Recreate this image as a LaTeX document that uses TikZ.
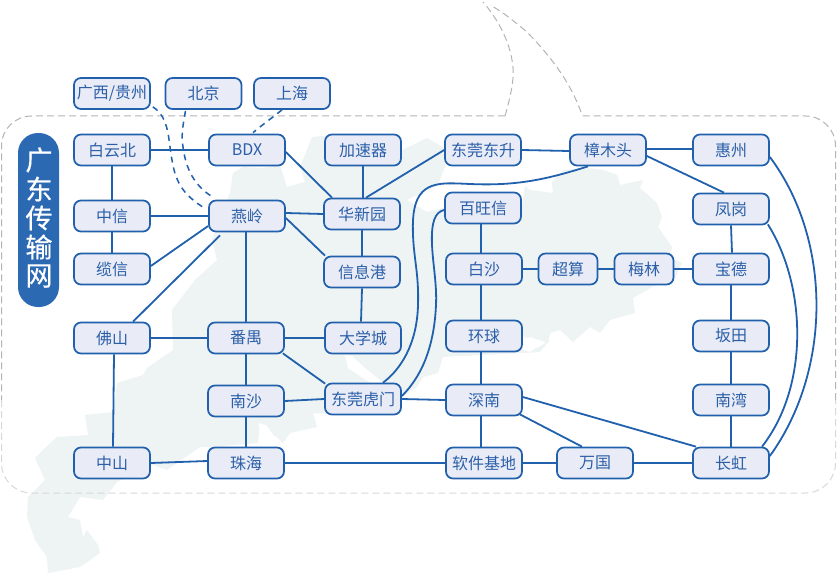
\documentclass[tikz,border=0pt]{standalone}
\usepackage{fontspec}
\setmainfont{Noto Sans CJK SC}
\newfontfamily\titlecjk[FakeBold=0.5]{Noto Sans CJK SC}
\begin{document}
\begin{tikzpicture}[x=1pt,y=-1pt,
  st/.style={draw=lineblue,fill=boxfill,line width=1.7pt,rounded corners=7pt,minimum width=76pt,minimum height=31pt,inner sep=0pt,text=textblue,font=\fontsize{16}{16}\selectfont},
  sm/.style={st,minimum width=59pt},
  pill/.style={draw=none,fill=pillblue,rounded corners=20pt,minimum width=41pt,minimum height=174pt,inner sep=0pt},
  pilltxt/.style={text=white,inner sep=0pt,font=\fontsize{27}{27}\selectfont\titlecjk},
  link/.style={draw=lineblue,line width=1.8pt},
  dlink/.style={draw=lineblue,line width=1.5pt,dash pattern=on 6pt off 5pt},
  border/.style={draw=bordergray,line width=1pt,dash pattern=on 7pt off 4pt},
  borderlow/.style={draw=borderlight,line width=1pt,dash pattern=on 7pt off 4pt},
]
\definecolor{lineblue}{HTML}{2060AC}
\definecolor{boxfill}{HTML}{E9ECF6}
\definecolor{textblue}{HTML}{2B5FA8}
\definecolor{pillblue}{HTML}{2B69B3}
\definecolor{mapgray}{HTML}{EEF3F4}
\definecolor{bordergray}{HTML}{B4B4B4}
\definecolor{borderlight}{HTML}{D8D8D8}
\useasboundingbox (0,0) rectangle (837,575);
\fill[white] (0,0) rectangle (837,575);
% map
\fill[mapgray] (233,173) -- (243,167) -- (262,168) -- (280,165) -- (287,187) -- (305,182) -- (300,167) -- (312,137) -- (323,136) -- (345,138) -- (402,150) -- (427,138) -- (443,147) -- (445,166) -- (438,185) -- (407,200) -- (427,212) -- (443,208) -- (522,205) -- (525,186) -- (530,190) -- (553,193) -- (552,182) -- (563,170) -- (587,168) -- (603,170) -- (617,175) -- (620,185) -- (643,180) -- (640,188) -- (657,203) -- (662,217) -- (658,227) -- (672,247) -- (670,257) -- (682,263) -- (675,278) -- (652,287) -- (633,298) -- (635,313) -- (610,320) -- (600,333) -- (590,327) -- (573,342) -- (560,330) -- (550,333) -- (548,343) -- (530,337) -- (523,340) -- (537,348) -- (550,340) -- (540,352) -- (443,357) -- (438,373) -- (423,377) -- (417,387) -- (402,397) -- (345,415) -- (313,413) -- (317,427) -- (290,433) -- (283,443) -- (277,437) -- (265,432) -- (260,423) -- (258,443) -- (208,447) -- (200,447) -- (167,470) -- (153,465) -- (117,482) -- (103,500) -- (80,497) -- (68,517) -- (80,520) -- (83,537) -- (87,530) -- (98,545) -- (100,553) -- (80,567) -- (48,573) -- (47,557) -- (35,540) -- (27,517) -- (28,497) -- (45,480) -- (35,458) -- (50,443) -- (57,437) -- (88,435) -- (85,415) -- (113,412) -- (117,383) -- (143,375) -- (147,368) -- (173,350) -- (172,310) -- (195,280) -- (217,260) -- (212,240) -- (225,205) -- (230,193) -- cycle;
\fill[white] (345,355) -- (352,356) -- (365,368) -- (382,382) -- (372,384) -- (360,376) -- (348,368) -- cycle;
\fill[white] (510,345) -- (520,335) -- (540,345) -- (530,352) -- cycle;
\fill[white] (258,423) -- (266,425) -- (274,436) -- (262,436) -- cycle;
% border
\path[border,rounded corners=30pt] (505,116) -- (1.5,116) -- (1.5,400);
\path[borderlow,rounded corners=30pt] (1.5,400) -- (1.5,493) -- (835.5,493) -- (835.5,400);
\path[border,rounded corners=30pt] (835.5,400) -- (835.5,116) -- (581,116);
\path[border] (505,116) .. controls (511,95) and (514,80) .. (513,68) .. controls (511,42) and (497,18) .. (483,2);
\path[border] (581,112) .. controls (570,82) and (552,58) .. (527,32) .. controls (515,22) and (503,12) .. (490,5);
% pill
\node[pill] (title) at (38.5,220) {};
\node[pilltxt] (t1) at (39,160) {广};
\node[pilltxt] (t2) at (39,189) {东};
\node[pilltxt] (t3) at (39,218) {传};
\node[pilltxt] (t4) at (39,247) {输};
\node[pilltxt] (t5) at (39,276) {网};
% nodes
\node[st] (gx) at (112,93.5) {广西/贵州};
\node[st] (bj) at (203.5,93.5) {北京};
\node[st] (sh) at (292,93.5) {上海};
\node[st] (byb) at (112,150) {白云北};
\node[st] (bdx) at (247,150) {BDX};
\node[st] (jsq) at (363,150) {加速器};
\node[st] (dgds) at (483,150) {东莞东升};
\node[st] (zmt) at (608,150) {樟木头};
\node[st] (hz) at (731,150) {惠州};
\node[st] (zx) at (112,216) {中信};
\node[st] (yl) at (247,216) {燕岭};
\node[st] (hxy) at (362,214) {华新园};
\node[st] (bwx) at (483,208) {百旺信};
\node[st] (fg) at (731,209) {凤岗};
\node[st] (lx) at (112,269) {缆信};
\node[st] (xxg) at (362,272) {信息港};
\node[st] (bs) at (484,269) {白沙};
\node[sm] (sus) at (568,269) {超算};
\node[sm] (ml) at (644,269) {梅林};
\node[st] (bd) at (731,269) {宝德};
\node[st] (fs) at (112,338) {佛山};
\node[st] (py) at (246,338) {番禺};
\node[st] (dxc) at (363,338) {大学城};
\node[st] (hq) at (484,336) {环球};
\node[st] (bt) at (731,336) {坂田};
\node[st] (ns) at (246,401) {南沙};
\node[st] (dghm) at (363,399) {东莞虎门};
\node[st] (sn) at (484,400) {深南};
\node[st] (nw) at (731,400) {南湾};
\node[st] (zs) at (112,463) {中山};
\node[st] (zh) at (246,463) {珠海};
\node[st] (rj) at (484,463) {软件基地};
\node[st] (wg) at (595,463) {万国};
\node[st] (ch) at (731,463) {长虹};
% connectors
\path[link] (byb.east) -- (bdx.west);
\path[link] (byb.south) -- (zx.north);
\path[link] (zx.east) -- (yl.west);
\path[link] (zx.south) -- (lx.north);
\path[link] ([shift={(0,-3)}]lx.east) -- ([shift={(0,10)}]yl.west);
\path[link] ([shift={(21,0)}]fs.north) -- ([shift={(-27,3)}]yl.south);
\path[link] ([shift={(0,2)}]bdx.east) -- ([shift={(-30,0)}]hxy.north);
\path[link] (jsq.south) -- ([shift={(1,0)}]hxy.north);
\path[link] (dgds.west) -- ([shift={(4,0)}]hxy.north);
\path[link] ([shift={(0,-3)}]yl.east) -- (hxy.west);
\path[link] ([shift={(0,2)}]yl.east) -- ([shift={(-37,0)}]xxg.north);
\path[link] (hxy.south) -- (xxg.north);
\path[link] (xxg.south) -- ([shift={(-2,0)}]dxc.north);
\path[link] ([shift={(-1,0)}]yl.south) -- (py.north);
\path[link] (fs.east) -- (py.west);
\path[link] (py.east) -- (dxc.west);
\path[link] ([shift={(-2,-1)}]py.south east) -- ([shift={(1,1)}]dghm.north west);
\path[link] (py.south) -- (ns.north);
\path[link] (ns.south) -- (zh.north);
\path[link] (ns.east) -- (dghm.west);
\path[link] ([shift={(2,0)}]fs.south) -- ([shift={(1,0)}]zs.north);
\path[link] (zs.east) -- ([shift={(0,-2)}]zh.west);
\path[link] (zh.east) -- (rj.west);
\path[link] (rj.east) -- (wg.west);
\path[link] (wg.east) -- (ch.west);
\path[link] (dghm.east) -- (sn.west);
\path[link] ([shift={(-3,0)}]sn.south) -- ([shift={(-3,0)}]rj.north);
\path[link] ([shift={(-2,0)}]bwx.south) -- ([shift={(-3,0)}]bs.north);
\path[link] ([shift={(-3,0)}]bs.south) -- ([shift={(-3,0)}]hq.north);
\path[link] ([shift={(-3,0)}]hq.south) -- ([shift={(-3,0)}]sn.north);
\path[link] ([shift={(0,-3)}]sn.east) -- ([shift={(-35,0)}]ch.north);
\path[link] ([shift={(-3,-2)}]sn.south east) -- ([shift={(-13,0)}]wg.north);
\path[link] (bs.east) -- (sus.west);
\path[link] (sus.east) -- (ml.west);
\path[link] (ml.east) -- (bd.west);
\path[link] (dgds.east) -- ([shift={(0,1)}]zmt.west);
\path[link] ([shift={(0,-1)}]zmt.east) -- ([shift={(0,-1)}]hz.west);
\path[link] ([shift={(0,6)}]zmt.east) -- ([shift={(-7,0)}]fg.north);
\path[link] (fg.south) -- ([shift={(1,0)}]bd.north);
\path[link] (bd.south) -- (bt.north);
\path[link] (bt.south) -- (nw.north);
\path[link] (nw.south) -- (ch.north);
\path[link] ([shift={(0,7)}]hz.east) .. controls (832,240) and (832,370) .. ([shift={(0,-7)}]ch.east);
\path[link] ([shift={(-2,-1)}]fg.south east) .. controls (806,285) and (810,385) .. ([shift={(31,0)}]ch.north);
\path[link] ([shift={(-20,0)}]zmt.south) .. controls (545,180) and (515,186) .. (470,184) .. controls (450,183) and (443,183) .. (435,185) .. controls (415,190) and (412,210) .. (413,235) .. controls (414,260) and (419,275) .. (418,305) .. controls (417,345) and (400,370) .. ([shift={(20,0)}]dghm.north);
\path[link] ([shift={(0,2)}]bwx.west) .. controls (435,212) and (431,222) .. (432,245) .. controls (433,265) and (437,285) .. (436,305) .. controls (434,350) and (420,378) .. ([shift={(0,-3)}]dghm.east);
\path[dlink] ([shift={(2,-3)}]gx.south east) .. controls (170,118) and (168,140) .. (172,160) .. controls (176,185) and (185,195) .. ([shift={(-6,7)}]yl.north west);
\path[dlink] ([shift={(-18,1)}]bj.south) .. controls (183,125) and (181,135) .. (183,147) .. controls (186,170) and (195,186) .. ([shift={(4,-3)}]yl.north west);
\path[dlink] ([shift={(-10,0)}]sh.south) .. controls (272,118) and (262,125) .. ([shift={(6,-1)}]bdx.north);
\end{tikzpicture}
\end{document}
